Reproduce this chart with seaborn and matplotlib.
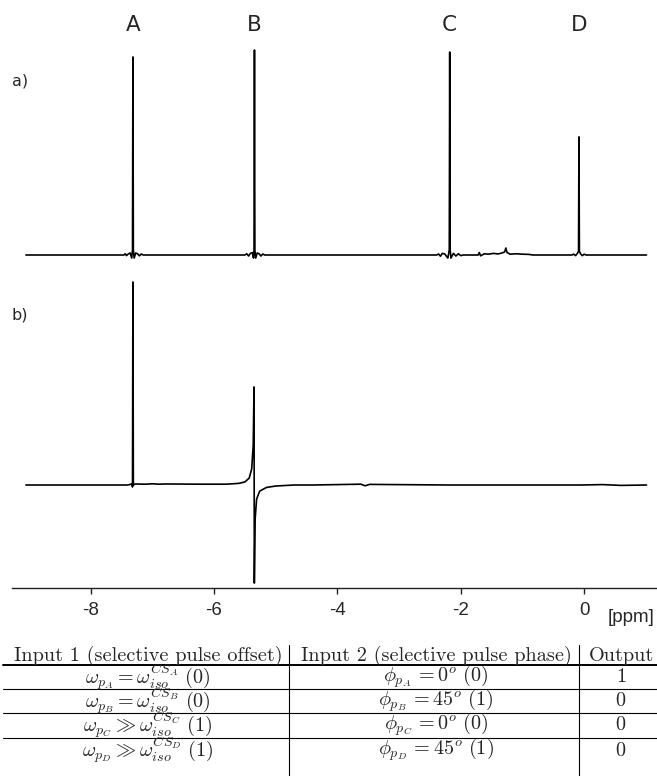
import matplotlib
matplotlib.use("Agg")
import matplotlib.pyplot as plt
import seaborn as sns
from matplotlib.lines import Line2D

# spectrum a) : ppm / intensity (B peak = 1)
spec_a_ppm = [-9.05, -7.46, -7.44, -7.42, -7.39, -7.36, -7.335, -7.322, -7.315, -7.308, -7.295, -7.27, -7.24, -7.21, -7.18, -7.15,
              -5.50, -5.47, -5.44, -5.41, -5.38, -5.36, -5.352, -5.345, -5.338, -5.325, -5.30, -5.27, -5.24, -5.21, -5.18,
              -2.39, -2.36, -2.33, -2.30, -2.26, -2.21, -2.187, -2.18, -2.173, -2.16, -2.12, -2.08, -2.04, -2.00, -1.96,
              -1.72, -1.70, -1.68, -1.62, -1.55, -1.47, -1.40, -1.33, -1.29, -1.27, -1.25, -1.20, -1.10, -1.00, -0.90, -0.83,
              -0.20, -0.17, -0.14, -0.11, -0.092, -0.085, -0.078, -0.06, -0.03, 0.00, 0.03, 1.01]
spec_a_int = [0, 0, 0.006, -0.003, 0.005, 0.01, -0.015, 0.025, 0.966, 0.025, -0.015, 0.01, 0.006, -0.004, 0.005, 0,
              0, 0.006, -0.005, 0.008, 0.012, -0.015, 0.025, 1.0, 0.025, -0.015, 0.01, 0.006, -0.005, 0.005, 0,
              0, 0.005, -0.006, 0.008, 0.005, -0.015, 0.025, 0.99, 0.025, -0.015, 0.008, -0.005, 0.006, -0.003, 0,
              0, 0.012, -0.004, 0.006, 0.004, 0.008, 0.005, 0.01, 0.015, 0.034, 0.012, 0.004, 0.006, 0.004, 0.003, 0,
              0, 0.004, -0.003, 0.008, 0.018, 0.576, 0.018, 0.006, -0.003, 0.004, 0, 0]

# spectrum b) : A in phase, B dispersive (A peak = 1)
spec_b_ppm = [-9.05, -7.40, -7.33, -7.322, -7.315, -7.308, -7.28, -7.10, -7.00, -6.90, -6.80, -6.20, -5.80, -5.60, -5.50,
              -5.43, -5.39, -5.365, -5.352, -5.347, -5.335, -5.31, -5.26, -5.15, -5.00, -4.70, -4.40, -3.62, -3.55, -3.48,
              -2.20, -0.05, 0.30, 0.60, 1.01]
spec_b_int = [0, 0, 0.005, -0.01, 1.0, 0.0, 0.005, 0.004, 0.006, 0.004, 0.005, 0.004, 0.004, 0.008, 0.015,
              0.034, 0.079, 0.197, 0.483, -0.483, -0.172, -0.069, -0.030, -0.012, -0.005, 0, 0, 0.004, -0.004, 0.003,
              0, 0, 0.002, -0.002, 0]

peak_labels = ["A", "B", "C", "D"]
peak_ppm = [-7.315, -5.345, -2.18, -0.085]
tick_values = [-8, -6, -4, -2, 0]

table_header = ["Input 1 (selective pulse offset)", "Input 2 (selective pulse phase)", "Output"]
table_col1 = [r"$\omega_{p_A} = \omega_{iso}^{CS_A}\ (0)$",
              r"$\omega_{p_B} = \omega_{iso}^{CS_B}\ (0)$",
              r"$\omega_{p_C} \gg \omega_{iso}^{CS_C}\ (1)$",
              r"$\omega_{p_D} \gg \omega_{iso}^{CS_D}\ (1)$"]
table_col2 = [r"$\phi_{p_A}\, = 0^o\ (0)$",
              r"$\phi_{p_B}\,{=}45^o\ (1)$",
              r"$\phi_{p_C}\, = 0^o\ (0)$",
              r"$\phi_{p_D}\,{=}45^o\ (1)$"]
table_col3 = ["1", "0", "0", "0"]

sns.set_style("white")
plt.rcParams["mathtext.fontset"] = "cm"
plt.rcParams["axes.unicode_minus"] = False

W, H = 657, 776
fig = plt.figure(figsize=(W / 100, H / 100), dpi=100)


def px(x, y):
    return x / W, 1 - y / H


x_lim = (-9.28, 1.18)
left = 11.7 / W
width = 1 - left

ax_a = fig.add_axes([left, (H - 265) / H, width, 225 / H])
sns.lineplot(x=spec_a_ppm, y=spec_a_int, ax=ax_a, color="black", lw=1.2, estimator=None, sort=False)
ax_a.set_xlim(*x_lim)
ax_a.set_ylim(-10 / 205, 215 / 205)
ax_a.axis("off")
for lab, pos in zip(peak_labels, peak_ppm):
    ax_a.text(pos, 1.122, lab, ha="center", va="center", fontsize=15.5,
              family="DejaVu Sans", clip_on=False)

ax_b = fig.add_axes([left, (H - 588) / H, width, 318 / H])
sns.lineplot(x=spec_b_ppm, y=spec_b_int, ax=ax_b, color="black", lw=1.2, estimator=None, sort=False)
ax_b.set_xlim(*x_lim)
ax_b.set_ylim(-103 / 203, 215 / 203)
for s in ["left", "top", "right"]:
    ax_b.spines[s].set_visible(False)
ax_b.spines["bottom"].set_color("#222222")
ax_b.spines["bottom"].set_linewidth(1.0)
ax_b.set_yticks([])
ax_b.set_xticks(tick_values)
ax_b.set_xticklabels([str(t) for t in tick_values], family="Liberation Sans", fontsize=13.5)
ax_b.tick_params(axis="x", direction="out", length=4, width=1, pad=6, bottom=True, color="#222222")
ax_b.set_xlabel("")
ax_b.set_ylabel("")

fig.text(*px(631, 617), "[ppm]", ha="center", va="center", fontsize=13.5, family="Liberation Sans")
fig.text(*px(20, 81), "a)", ha="center", va="center", fontsize=11.5, family="DejaVu Sans")
fig.text(*px(20, 315), "b)", ha="center", va="center", fontsize=11.5, family="DejaVu Sans")

# table below the spectra
col_x = [148, 436, 621]
header_y = 656
row_y = [677, 701, 725, 750]
hline_y = [665, 689, 713, 738]
vline_x = [289, 579]

for cx, txt in zip(col_x, table_header):
    fig.text(*px(cx, header_y), txt, ha="center", va="center", fontsize=14.6, family="cmr10")
for col, cx in zip([table_col1, table_col2, table_col3], col_x):
    for ry, txt in zip(row_y, col):
        if col is table_col3:
            txt = "$" + txt + "$"
        fig.text(*px(cx, ry), txt, ha="center", va="center", fontsize=14.5)

for i, hy in enumerate(hline_y):
    fig.add_artist(Line2D([3 / W, 1], [1 - hy / H] * 2, color="black", lw=1.4 if i == 0 else 0.8))
for vx in vline_x:
    fig.add_artist(Line2D([vx / W] * 2, [1 - 645 / H, 0], color="black", lw=0.8))

fig.savefig("out.png", dpi=100)
